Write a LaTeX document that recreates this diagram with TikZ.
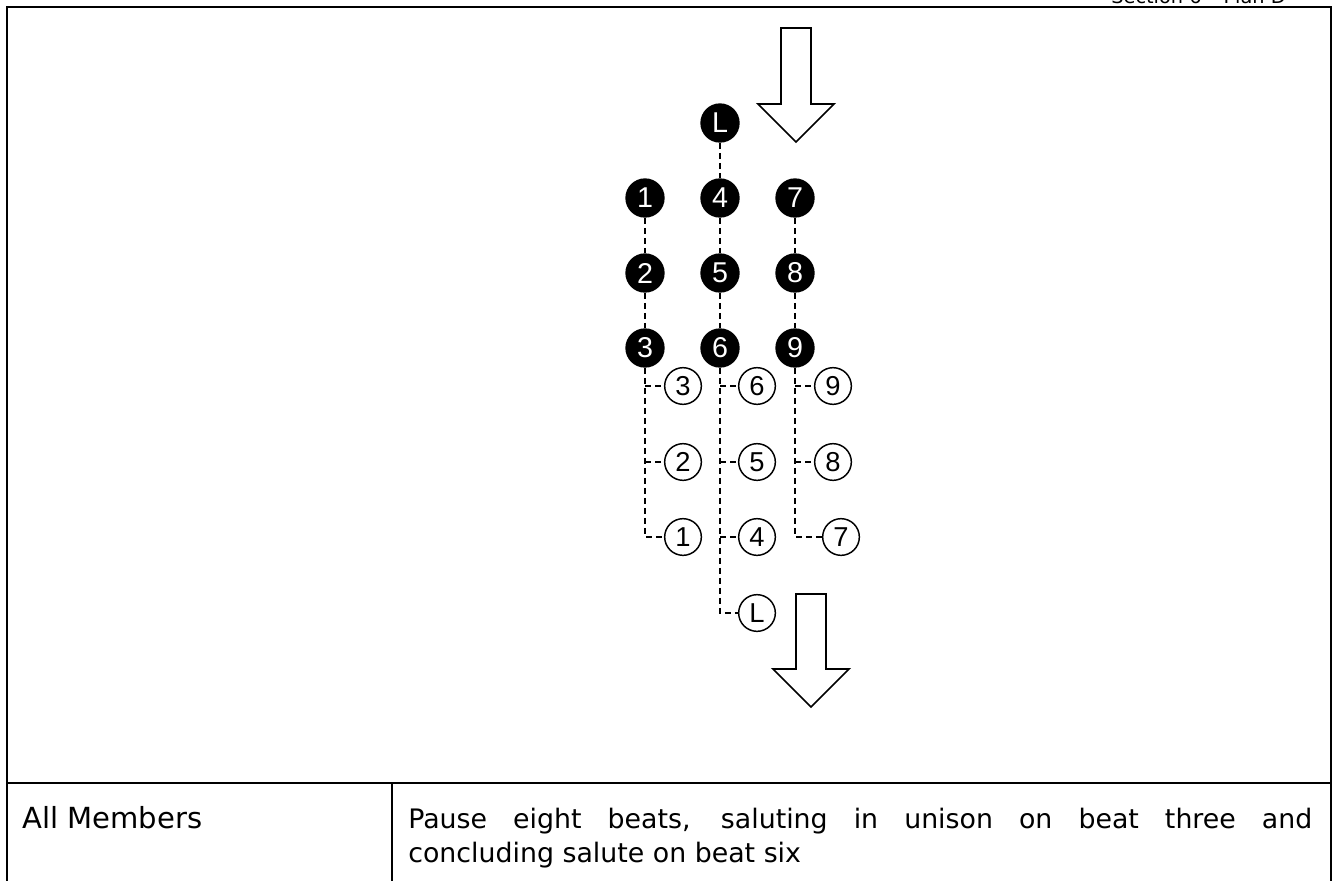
\documentclass[tikz,border=0pt]{standalone}
\usepackage{fontspec}
\setmainfont{DejaVu Sans}
\newfontfamily\numfont{Liberation Sans}
\begin{document}
\begin{tikzpicture}[x=0.75pt,y=-0.75pt,
  blk/.style={circle,fill=black,inner sep=0pt,minimum size=29.5pt,text=white,font=\numfont\fontsize{21.5}{21.5}\selectfont},
  wht/.style={circle,draw=black,line width=1.1pt,fill=white,inner sep=0pt,minimum size=27.5pt,font=\numfont\fontsize{20.5}{20.5}\selectfont},
  dl/.style={draw=black,line width=1.15pt,dash pattern=on 4.5pt off 3pt},
  frameline/.style={line width=1.5pt},
  bigarrow/.style={draw=black,line width=1.3pt,fill=white,line join=miter},
  txt/.style={inner sep=0pt,font=\fontsize{20.1}{25.5}\selectfont}]
\useasboundingbox (0,0) rectangle (1338,881);
% frame and table
\draw[frameline] (7,881) -- (7,7) -- (1331,7) -- (1331,881);
\draw[frameline] (7,783) -- (1331,783);
\draw[frameline] (392,783) -- (392,881);
% header
\node[anchor=base east,inner sep=0pt,font=\fontsize{14.5}{17}\selectfont] (hdr) at (1286,4) {Section 6 – Plan D};
% black circles
\node[blk] (bL) at (720,123) {L};
\node[blk] (b1) at (645,198) {1};
\node[blk] (b4) at (720,198) {4};
\node[blk] (b7) at (795,198) {7};
\node[blk] (b2) at (645,273) {2};
\node[blk] (b5) at (720,273) {5};
\node[blk] (b8) at (795,273) {8};
\node[blk] (b3) at (645,348) {3};
\node[blk] (b6) at (720,348) {6};
\node[blk] (b9) at (795,348) {9};
% white circles
\node[wht] (w3) at (683,386) {3};
\node[wht] (w2) at (683,462) {2};
\node[wht] (w1) at (683,537) {1};
\node[wht] (w6) at (757,386) {6};
\node[wht] (w5) at (757,462) {5};
\node[wht] (w4) at (757,537) {4};
\node[wht] (wL) at (757,613) {L};
\node[wht] (w9) at (833,386) {9};
\node[wht] (w8) at (833,462) {8};
\node[wht] (w7) at (841,537) {7};
% dashed links
\draw[dl] (bL) -- (b4);
\draw[dl] (b4) -- (b5);
\draw[dl] (b5) -- (b6);
\draw[dl] (b1) -- (b2);
\draw[dl] (b2) -- (b3);
\draw[dl] (b7) -- (b8);
\draw[dl] (b8) -- (b9);
\draw[dl] (b3.south) |- (w1.west);
\draw[dl] (b3.south |- w3.west) -- (w3.west);
\draw[dl] (b3.south |- w2.west) -- (w2.west);
\draw[dl] (b6.south) |- (wL.west);
\draw[dl] (b6.south |- w6.west) -- (w6.west);
\draw[dl] (b6.south |- w5.west) -- (w5.west);
\draw[dl] (b6.south |- w4.west) -- (w4.west);
\draw[dl] (b9.south) |- (w7.west);
\draw[dl] (b9.south |- w9.west) -- (w9.west);
\draw[dl] (b9.south |- w8.west) -- (w8.west);
% arrows
\draw[bigarrow] (781,28) -- (811,28) -- (811,104) -- (834,104) -- (796,142) -- (758,104) -- (781,104) -- cycle;
\draw[bigarrow] (796,594) -- (826,594) -- (826,669) -- (849,669) -- (811,707) -- (773,669) -- (796,669) -- cycle;
% table texts
\node[inner sep=0pt,font=\fontsize{21.8}{25.5}\selectfont,anchor=base west] (am) at (22,828) {All Members};
\node[txt,anchor=base west,text width=678pt,align=justify] (desc) at (408,828) {Pause eight beats, saluting in unison on beat three and\linebreak concluding salute on beat six};
\end{tikzpicture}
\end{document}
